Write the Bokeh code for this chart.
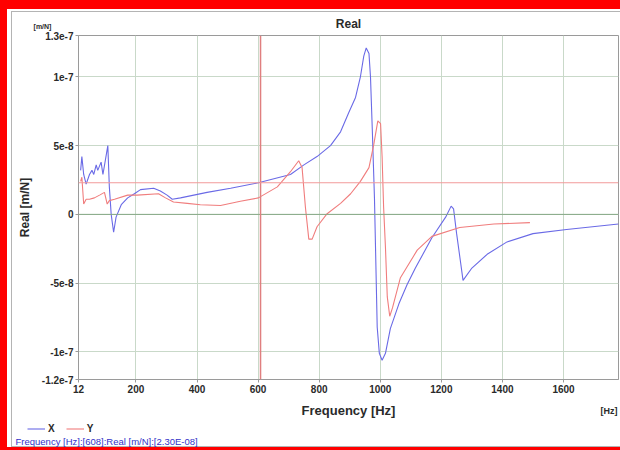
from bokeh.plotting import figure
from bokeh.layouts import column
from bokeh.models import Span, Label, Legend, LegendItem, FixedTicker, Range1d
from bokeh.embed import file_html
from bokeh.resources import INLINE

# Frequency [Hz] and Real part [1e-8 m/N]
freq_x = [19, 23, 29, 37, 48, 56, 62, 70, 75, 86, 92, 108, 113, 119, 127, 135, 152, 173, 195,
          215, 258, 280, 302, 319, 346, 433, 510, 601, 706, 750, 793, 837, 870, 897, 919, 935,
          946, 954, 963, 968, 974, 981, 990, 997, 1006, 1017, 1033, 1061, 1088, 1115, 1169, 1214,
          1232, 1240, 1250, 1263, 1271, 1300, 1350, 1415, 1500, 1610, 1780]
real_x = [3.2, 4.2, 2.9, 2.2, 2.9, 3.2, 2.9, 3.6, 3.2, 3.8, 2.9, 5.0, 2.0, 0.0, -1.3, -0.2, 0.7,
          1.2, 1.5, 1.8, 1.9, 1.7, 1.4, 1.1, 1.2, 1.6, 1.9, 2.3, 2.9, 3.6, 4.2, 5.0, 6.0, 7.4,
          8.5, 10.0, 11.5, 12.1, 11.7, 10.0, 6.1, 1.2, -8.2, -10.1, -10.6, -10.1, -8.3, -6.5,
          -5.1, -3.9, -1.7, -0.2, 0.6, 0.4, -1.4, -3.5, -4.8, -3.9, -2.9, -2.0, -1.4, -1.1, -0.7]

freq_y = [19, 23, 29, 37, 48, 64, 81, 97, 106, 113, 130, 173, 204, 274, 297, 323, 368, 411, 477,
          542, 601, 663, 706, 733, 744, 755, 766, 777, 793, 826, 870, 903, 935, 963, 979, 992,
          1001, 1006, 1011, 1017, 1023, 1031, 1040, 1066, 1121, 1169, 1260, 1372, 1490]
real_y = [2.4, 2.7, 0.75, 1.1, 1.1, 1.2, 1.4, 1.6, 0.75, 1.0, 1.1, 1.4, 1.4, 1.5, 1.2, 0.9, 0.8,
          0.7, 0.65, 0.95, 1.2, 2.0, 3.1, 3.9, 3.4, 0.5, -1.8, -1.8, -0.9, 0.05, 0.8, 1.5, 2.4,
          3.4, 5.1, 6.8, 6.6, 4.2, 0.5, -2.4, -6.0, -7.4, -6.8, -4.6, -2.6, -1.6, -0.95, -0.7, -0.6]

x_ticks = [12, 200, 400, 600, 800, 1000, 1200, 1400, 1600]
y_ticks = [-12, -10, -5, 0, 5, 10, 13]
y_tick_labels = ["-1.2e-7", "-1e-7", "-5e-8", "0", "5e-8", "1e-7", "1.3e-7"]
series_names = ["X", "Y"]
series_colors = ["#6a6ae6", "#f07d7d"]

cursor_freq = 608
cursor_real = 2.30
status_text = "Frequency [Hz]:[608]:Real [m/N]:[2.30E-08]"

FONT = "Liberation Sans"
TXT = "#2a2a2a"
W, H = 620, 450

# ---------------- main chart ----------------
main = figure(width=W, height=H, x_range=Range1d(12, 1780), y_range=Range1d(-12, 13),
              output_backend="svg", toolbar_location=None, title="Real",
              min_border_left=78, min_border_right=2, min_border_top=35, min_border_bottom=71,
              background_fill_color="white", border_fill_color=None)
main.frame_align = False
main.styles = {"box-shadow": "inset 7px 9px 0 0 #ff0000, inset 0 -3px 0 0 #ff0000, "
                             "inset 11px 11px 0 0 #ffffff, inset 0 -4px 0 0 #b4b4b4, "
                             "inset 12px 12px 0 0 #b4b4b4"}

main.title.align = "center"
main.title.text_font = FONT
main.title.text_font_size = "12px"
main.title.text_font_style = "bold"
main.title.text_color = TXT
main.title.standoff = 10

main.outline_line_color = "#9a9a9a"

for ax in (main.xaxis[0], main.yaxis[0]):
    ax.axis_line_color = "#9a9a9a"
    ax.major_tick_line_color = "#9a9a9a"
    ax.major_tick_out = 3
    ax.major_tick_in = 0
    ax.minor_tick_line_color = None
    ax.major_label_text_font = FONT
    ax.major_label_text_font_size = "10px"
    ax.major_label_text_font_style = "bold"
    ax.major_label_text_color = TXT
    ax.major_label_standoff = 2
    ax.axis_label_text_font = FONT
    ax.axis_label_text_font_style = "bold"
    ax.axis_label_text_color = TXT

main.xaxis[0].ticker = FixedTicker(ticks=x_ticks)
main.xaxis[0].axis_label = "Frequency [Hz]"
main.xaxis[0].axis_label_text_font_size = "13px"
main.xaxis[0].axis_label_standoff = 7

main.yaxis[0].ticker = FixedTicker(ticks=y_ticks)
main.yaxis[0].major_label_overrides = {t: s for t, s in zip(y_ticks, y_tick_labels)}
main.yaxis[0].axis_label = "Real [m/N]"
main.yaxis[0].axis_label_text_font_size = "12px"
main.yaxis[0].axis_label_standoff = 7

main.xgrid.grid_line_color = "#c9d9c9"
main.ygrid.grid_line_color = "#c9d9c9"
main.ygrid.ticker = FixedTicker(ticks=y_ticks[1:-1])

main.add_layout(Span(location=0, dimension="width", line_color="#86a886", line_width=1))

main.line(freq_x, real_x, line_color=series_colors[0], line_width=1.1)
main.line(freq_y, real_y, line_color=series_colors[1], line_width=1.1)

main.add_layout(Span(location=cursor_freq, dimension="height", line_color="#e07f7f",
                     line_width=1.5))
main.add_layout(Span(location=cursor_real, dimension="width", line_color="#f29a9a",
                     line_width=1.2))

# ------------- overlay for the free texts around the chart (pixel space) -------------
ov = figure(width=W, height=H, x_range=Range1d(0, W), y_range=Range1d(H, 0),
            output_backend="svg", toolbar_location=None,
            min_border_left=0, min_border_right=0, min_border_top=0, min_border_bottom=0,
            x_axis_location=None, y_axis_location=None,
            background_fill_color=None, border_fill_color=None, outline_line_color=None)
ov.frame_align = False
ov.grid.visible = False
ov.styles = {"position": "absolute", "top": "0px", "left": "0px", "pointer-events": "none"}

ov.add_layout(Label(x=42, y=25.5, text="[m/N]", text_align="center", text_baseline="middle",
                    text_font=FONT, text_font_size="7px", text_font_style="bold",
                    text_color=TXT))
ov.add_layout(Label(x=617, y=410, text="[Hz]", text_align="right", text_baseline="middle",
                    text_font=FONT, text_font_size="9px", text_font_style="bold",
                    text_color=TXT))
ov.add_layout(Label(x=15, y=441, text=status_text, text_align="left", text_baseline="middle",
                    text_font=FONT, text_font_size="9.5px", text_color="#3232c8"))

# legend keys (a single empty point each, only their line style is shown in the legend)
k_x = ov.line([float("nan")], [float("nan")], line_color=series_colors[0], line_width=1.1)
k_y = ov.line([float("nan")], [float("nan")], line_color=series_colors[1], line_width=1.1)
legend = Legend(items=[LegendItem(label=series_names[0], renderers=[k_x]),
                       LegendItem(label=series_names[1], renderers=[k_y])],
                location=(27, 16), orientation="horizontal", border_line_color=None,
                background_fill_alpha=0, padding=0, margin=0, spacing=11,
                glyph_width=18, glyph_height=11, label_height=11, label_width=0,
                label_standoff=3,
                label_text_font=FONT, label_text_font_size="10px",
                label_text_font_style="bold", label_text_color=TXT)
ov.add_layout(legend)

p = column(main, ov)

open("out.html", "w").write(file_html(p, INLINE))
